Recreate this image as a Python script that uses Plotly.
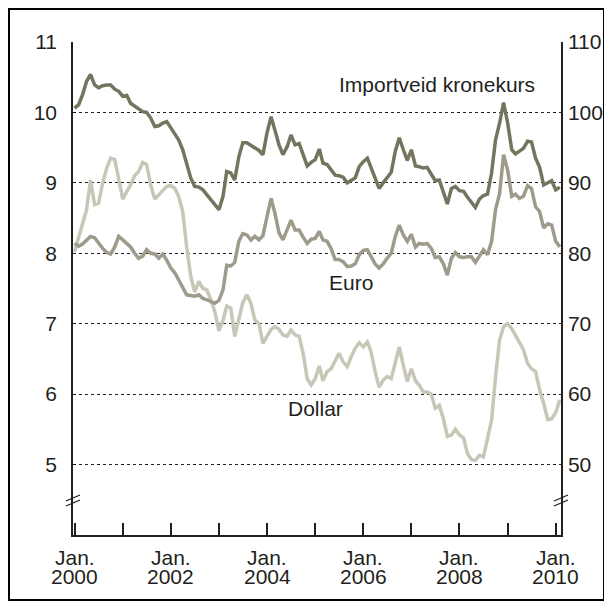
import pandas as pd
import plotly.graph_objects as go

# ---- data (monthly, Jan 2000 - Feb 2010) ----
months = pd.date_range("2000-01-01", periods=122, freq="MS")

importveid = [10.06, 10.11, 10.25, 10.44, 10.54, 10.39, 10.35, 10.38, 10.39, 10.39,
              10.33, 10.30, 10.23, 10.24, 10.13, 10.09, 10.04, 10.01, 10.00, 9.92,
              9.80, 9.81, 9.85, 9.87, 9.78, 9.68, 9.61, 9.47, 9.28, 9.07,
              8.95, 8.94, 8.90, 8.83, 8.77, 8.69, 8.62, 8.81, 9.16, 9.14,
              9.04, 9.37, 9.57, 9.57, 9.53, 9.49, 9.46, 9.40, 9.71, 9.94,
              9.75, 9.54, 9.40, 9.51, 9.68, 9.54, 9.56, 9.40, 9.24, 9.29,
              9.33, 9.48, 9.28, 9.26, 9.18, 9.11, 9.10, 9.08, 9.00, 9.04,
              9.07, 9.23, 9.30, 9.35, 9.21, 9.04, 8.92, 9.00, 9.08, 9.15,
              9.45, 9.64, 9.47, 9.32, 9.47, 9.24, 9.23, 9.21, 9.22, 9.12,
              9.03, 9.04, 8.88, 8.70, 8.92, 8.95, 8.89, 8.88, 8.80, 8.73,
              8.65, 8.77, 8.82, 8.84, 9.14, 9.61, 9.85, 10.14, 9.85, 9.47,
              9.41, 9.45, 9.49, 9.59, 9.58, 9.35, 9.22, 8.97, 9.00, 9.03,
              8.90, 8.94]

euro = [8.14, 8.10, 8.13, 8.19, 8.24, 8.22, 8.14, 8.07, 8.01, 7.99,
        8.09, 8.24, 8.19, 8.14, 8.09, 8.00, 7.93, 7.96, 8.05, 8.00,
        7.99, 7.93, 7.99, 7.90, 7.79, 7.72, 7.62, 7.53, 7.41, 7.40,
        7.39, 7.41, 7.36, 7.34, 7.31, 7.29, 7.33, 7.48, 7.83, 7.82,
        7.87, 8.17, 8.28, 8.26, 8.19, 8.24, 8.19, 8.25, 8.52, 8.78,
        8.57, 8.29, 8.19, 8.32, 8.47, 8.33, 8.33, 8.23, 8.14, 8.20,
        8.21, 8.31, 8.19, 8.17, 8.07, 7.91, 7.91, 7.88, 7.81, 7.82,
        7.85, 7.98, 8.04, 8.05, 7.95, 7.85, 7.79, 7.85, 7.93, 8.00,
        8.24, 8.40, 8.26, 8.17, 8.27, 8.09, 8.14, 8.13, 8.14, 8.07,
        7.94, 7.95, 7.85, 7.69, 7.93, 8.01, 7.95, 7.94, 7.95, 7.95,
        7.87, 7.96, 8.05, 7.98, 8.17, 8.62, 8.85, 9.40, 9.18, 8.81,
        8.84, 8.78, 8.81, 8.96, 8.92, 8.66, 8.59, 8.36, 8.42, 8.40,
        8.17, 8.09]

dollar = [8.02, 8.21, 8.43, 8.62, 9.04, 8.69, 8.71, 9.00, 9.21, 9.35,
          9.33, 9.04, 8.77, 8.88, 8.97, 9.10, 9.16, 9.29, 9.26, 8.97,
          8.77, 8.83, 8.90, 8.95, 8.96, 8.92, 8.81, 8.59, 8.09, 7.67,
          7.45, 7.60, 7.50, 7.48, 7.34, 7.17, 6.90, 7.05, 7.25, 7.22,
          6.82, 7.08, 7.30, 7.41, 7.29, 7.05, 7.00, 6.72, 6.82, 6.92,
          6.96, 6.92, 6.84, 6.82, 6.91, 6.84, 6.82, 6.58, 6.22, 6.13,
          6.22, 6.40, 6.19, 6.32, 6.36, 6.48, 6.58, 6.46, 6.39, 6.53,
          6.65, 6.73, 6.67, 6.74, 6.60, 6.32, 6.10, 6.20, 6.25, 6.22,
          6.46, 6.67, 6.41, 6.18, 6.36, 6.19, 6.13, 6.03, 6.03, 6.00,
          5.80, 5.84, 5.65, 5.40, 5.42, 5.50, 5.42, 5.38, 5.16, 5.07,
          5.06, 5.13, 5.11, 5.35, 5.63, 6.25, 6.77, 6.96, 7.00, 6.93,
          6.84, 6.74, 6.63, 6.44, 6.36, 6.32, 6.06, 5.87, 5.64, 5.65,
          5.74, 5.92]

left_ticks = [5, 6, 7, 8, 9, 10, 11]
right_ticks = [50, 60, 70, 80, 90, 100, 110]
year_ticks = pd.date_range("2000-01-01", "2010-01-01", freq="YS")
label_years = [2000, 2002, 2004, 2006, 2008, 2010]
label_month = "Jan."

# ---- styling ----
TXT = "#231f20"
FONT = "Liberation Sans, Arial, sans-serif"
FS = 21
C_IMP = "#75755f"
C_EUR = "#9e9b8c"
C_USD = "#c8c6b7"
LW = 3.5

W, H = 612, 608
ML, MT = 65, 34
PW, PH = 488, 493
MR = W - ML - PW
MB = H - MT - PH
YR = [4, 11]

fig = go.Figure()
fig.add_trace(go.Scatter(x=months, y=dollar, mode="lines", line=dict(color=C_USD, width=LW), name="Dollar"))
fig.add_trace(go.Scatter(x=months, y=euro, mode="lines", line=dict(color=C_EUR, width=LW), name="Euro"))
fig.add_trace(go.Scatter(x=months, y=importveid, mode="lines", line=dict(color=C_IMP, width=LW), name="Importveid kronekurs"))
# invisible helper trace so the right-hand axis is drawn
fig.add_trace(go.Scatter(x=[months[0]], y=[right_ticks[0]], yaxis="y2", mode="lines",
                         line=dict(width=0), hoverinfo="skip", showlegend=False))

xrange = ["1999-12-20", "2010-02-10"]

fig.update_layout(
    width=W, height=H,
    margin=dict(l=ML, r=MR, t=MT, b=MB, pad=0),
    paper_bgcolor="white", plot_bgcolor="white",
    showlegend=False, hovermode=False,
    font=dict(family=FONT, size=FS, color=TXT),
    xaxis=dict(
        range=xrange, type="date",
        tickmode="array", tickvals=list(year_ticks), showticklabels=False,
        ticks="inside", ticklen=12, tickwidth=1.5, tickcolor=TXT,
        showline=True, linecolor=TXT, linewidth=2, mirror=False,
        showgrid=False, zeroline=False,
    ),
    yaxis=dict(
        range=YR, tickmode="array", tickvals=left_ticks,
        ticks="", showline=True, linecolor=TXT, linewidth=1.5,
        showgrid=True, gridcolor=TXT, gridwidth=1, griddash="dot",
        zeroline=False, ticklabelstandoff=10,
        tickfont=dict(family=FONT, size=FS, color=TXT),
    ),
    yaxis2=dict(
        range=[YR[0] * 10, YR[1] * 10], overlaying="y", side="right", anchor="x",
        tickmode="array", tickvals=right_ticks,
        ticks="", showline=True, linecolor=TXT, linewidth=1.5,
        showgrid=False, zeroline=False, ticklabelstandoff=1,
        tickfont=dict(family=FONT, size=FS, color=TXT),
    ),
)

# two-line x tick labels ("Jan." over the year), tight line spacing
for yr in label_years:
    xd = pd.Timestamp(f"{yr}-01-01")
    fig.add_annotation(x=xd, y=0, xref="x", yref="paper", text=label_month, showarrow=False,
                       xanchor="center", yanchor="top", yshift=-9,
                       font=dict(family=FONT, size=FS, color=TXT))
    fig.add_annotation(x=xd, y=0, xref="x", yref="paper", text=str(yr), showarrow=False,
                       xanchor="center", yanchor="top", yshift=-28,
                       font=dict(family=FONT, size=FS, color=TXT))

# series labels
for txt, xd, yv in [("Importveid kronekurs", "2007-07-12", 10.40),
                    ("Euro", "2005-09-28", 7.58),
                    ("Dollar", "2005-01-04", 5.79)]:
    fig.add_annotation(x=xd, y=yv, xref="x", yref="y", text=txt, showarrow=False,
                       xanchor="center", yanchor="middle",
                       font=dict(family=FONT, size=FS, color=TXT))

# axis break marks (//) on both vertical axes
def px_x(px):
    return (px - ML) / PW

def px_y(py):
    return (H - MB - py) / PH

upu = PH / (YR[1] - YR[0])  # pixels per unit
ybreak = 4.49
for ax_px in (ML, ML + PW):
    for off in (-2.5, 2.5):
        fig.add_shape(type="line", xref="paper", yref="y",
                      x0=px_x(ax_px - 7), x1=px_x(ax_px + 7),
                      y0=ybreak - (off + 3) / upu, y1=ybreak - (off - 3) / upu,
                      line=dict(color=TXT, width=1.3))

# outer frame
fig.add_shape(type="rect", xref="paper", yref="paper",
              x0=px_x(1), x1=px_x(596),
              y0=px_y(592), y1=px_y(1),
              line=dict(color="black", width=2), fillcolor="rgba(0,0,0,0)", layer="below")

fig.write_html("out.html")
